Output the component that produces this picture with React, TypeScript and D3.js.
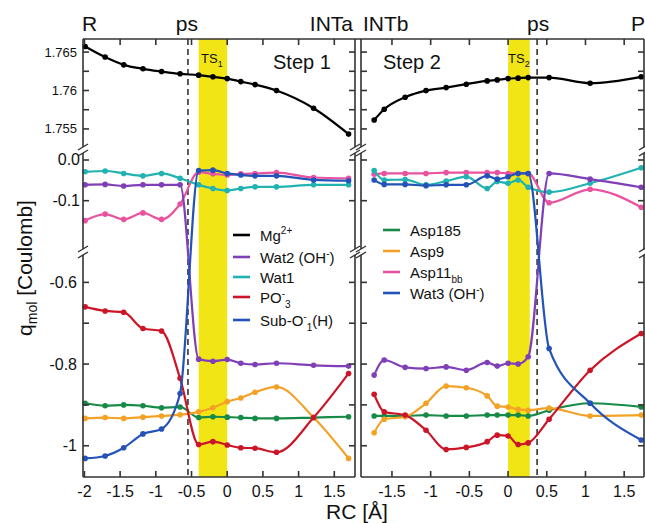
import * as d3 from 'd3';

// reaction coordinate (Å) of the frames in each step
const rcStep1 = [-1.99, -1.71, -1.45, -1.18, -0.92, -0.66, -0.4, -0.2, 0.0, 0.19, 0.39, 0.69, 1.21, 1.7];
const rcStep2 = [-1.73, -1.6, -1.33, -1.06, -0.8, -0.54, -0.27, -0.14, 0.0, 0.13, 0.26, 0.53, 1.06, 1.72];

// step 1 charges
const mg1 = [1.76573, 1.76435, 1.76334, 1.76282, 1.76247, 1.76217, 1.762, 1.76178, 1.76155, 1.76116, 1.76077, 1.75999, 1.75769, 1.75433];
const wat2s1 = [-0.061, -0.06, -0.064, -0.061, -0.061, -0.061, -0.788, -0.793, -0.789, -0.798, -0.801, -0.798, -0.803, -0.805];
const wat1s1 = [-0.029, -0.027, -0.033, -0.039, -0.033, -0.045, -0.061, -0.07, -0.075, -0.07, -0.066, -0.066, -0.061, -0.061];
const po3s1 = [-0.66, -0.67, -0.673, -0.713, -0.719, -0.835, -0.997, -0.99, -0.998, -1.005, -1.006, -1.016, -0.931, -0.823];
const subOs1 = [-1.031, -1.025, -1.005, -0.971, -0.959, -0.872, -0.026, -0.025, -0.033, -0.037, -0.039, -0.039, -0.049, -0.051];
const asp185s1 = [-0.896, -0.902, -0.9, -0.902, -0.907, -0.905, -0.931, -0.929, -0.93, -0.931, -0.933, -0.933, -0.931, -0.929];
const asp9s1 = [-0.933, -0.931, -0.933, -0.93, -0.927, -0.924, -0.917, -0.907, -0.892, -0.883, -0.869, -0.856, -0.931, -1.031];
const asp11s1 = [-0.149, -0.133, -0.146, -0.13, -0.146, -0.108, -0.03, -0.034, -0.037, -0.034, -0.033, -0.031, -0.043, -0.045];

// step 2 charges
const mg2 = [1.75616, 1.75756, 1.75913, 1.75999, 1.76038, 1.76082, 1.76125, 1.76138, 1.76155, 1.76161, 1.76168, 1.76168, 1.76095, 1.76178];
const asp11s2 = [-0.035, -0.033, -0.033, -0.033, -0.031, -0.031, -0.031, -0.031, -0.033, -0.033, -0.033, -0.105, -0.072, -0.116];
const wat1s2 = [-0.026, -0.049, -0.048, -0.061, -0.052, -0.041, -0.07, -0.053, -0.057, -0.049, -0.067, -0.079, -0.057, -0.019];
const wat3s2 = [-0.049, -0.06, -0.06, -0.063, -0.061, -0.061, -0.039, -0.047, -0.041, -0.033, -0.033, -0.762, -0.896, -0.986];
const wat2s2 = [-0.827, -0.79, -0.808, -0.811, -0.807, -0.815, -0.796, -0.805, -0.798, -0.8, -0.782, -0.033, -0.047, -0.067];
const po3s2 = [-0.874, -0.917, -0.925, -0.962, -1.009, -1.004, -0.99, -0.974, -0.976, -0.997, -0.993, -0.935, -0.815, -0.725];
const asp185s2 = [-0.927, -0.927, -0.927, -0.925, -0.927, -0.927, -0.925, -0.925, -0.925, -0.925, -0.927, -0.913, -0.896, -0.905];
const asp9s2 = [-0.968, -0.935, -0.929, -0.896, -0.854, -0.858, -0.878, -0.903, -0.905, -0.911, -0.913, -0.908, -0.927, -0.925];

// transition state windows and ps markers
const tsBand1 = [-0.4, 0.0];
const tsBand2 = [0.0, 0.28];
const psLine1 = -0.55;
const psLine2 = 0.375;

const xTicks1 = [-2, -1.5, -1, -0.5, 0, 0.5, 1, 1.5];
const xTicks2 = [-1.5, -1, -0.5, 0, 0.5, 1, 1.5];
const topTicks = [1.765, 1.7625, 1.76, 1.7575, 1.755];
const topLabels = [1.765, 1.76, 1.755];
const midTicks = [0, -0.1];
const midLabels = [0, -0.1];
const botTicks = [-0.6, -0.7, -0.8, -0.9, -1.0];
const botLabels = [-0.6, -0.8, -1.0];

const C = {
  mg: '#000000',
  wat2: '#7f3fb6',
  wat1: '#22b3b1',
  po3: '#cc1628',
  blue: '#2352b8',
  asp185: '#178a47',
  asp9: '#f4a226',
  asp11: '#e9529e',
  yellow: '#f2e516',
  axis: '#333333',
};

const FONT = "'Liberation Sans', Arial, Helvetica, sans-serif";

// plain hyphen for negatives, like the original figure
const fmt = (f: string) => (v: number) => d3.format(f)(v).replace('\u2212', '-');

const xL = d3.scaleLinear().domain([-2.02, 1.79]).range([83, 355]);
const xR = d3.scaleLinear().domain([-1.9, 1.756]).range([361, 644]);
const yTop = d3.scaleLinear().domain([1.7667, 1.75265]).range([39, 147]);
const yMid = d3.scaleLinear().domain([0.0172, -0.2187]).range([153, 249]);
const yBot = d3.scaleLinear().domain([-0.533, -1.0765]).range([255, 477]);
const yOf = (v: number) => (v > 1 ? yTop(v) : v > -0.35 ? yMid(v) : yBot(v));

const sections = [yTop, yMid, yBot];
const Y0 = 39;
const Y1 = 477;

const series1 = [
  { c: C.asp11, v: asp11s1 },
  { c: C.wat1, v: wat1s1 },
  { c: C.asp185, v: asp185s1 },
  { c: C.asp9, v: asp9s1 },
  { c: C.po3, v: po3s1 },
  { c: C.wat2, v: wat2s1 },
  { c: C.blue, v: subOs1 },
  { c: C.mg, v: mg1 },
];
const series2 = [
  { c: C.asp11, v: asp11s2 },
  { c: C.wat1, v: wat1s2 },
  { c: C.asp185, v: asp185s2 },
  { c: C.asp9, v: asp9s2 },
  { c: C.po3, v: po3s2 },
  { c: C.wat2, v: wat2s2 },
  { c: C.blue, v: wat3s2 },
  { c: C.mg, v: mg2 },
];

function Lines({ xs, rc, series }: any) {
  const line = d3
    .line<[number, number]>()
    .x((d) => d[0])
    .y((d) => d[1])
    .curve(d3.curveMonotoneX);
  return (
    <g>
      {series.map((s: any, i: number) => {
        const pts: [number, number][] = s.v.map((v: number, j: number) => [xs(rc[j]), yOf(v)]);
        return (
          <g key={i}>
            <path d={line(pts) || ''} fill="none" stroke={s.c} strokeWidth={2.2} />
            {pts.map((p, j) => (
              <circle key={j} cx={p[0]} cy={p[1]} r={2.8} fill={s.c} />
            ))}
          </g>
        );
      })}
    </g>
  );
}

// vertical axis at x with inward ticks (dir = +1 right, -1 left)
function VAxis({ x, dir, labels }: any) {
  const tick = 6;
  const segs = sections.map((s) => s.range());
  const allTicks = [
    ...topTicks.map((t) => yTop(t)),
    ...midTicks.map((t) => yMid(t)),
    ...botTicks.map((t) => yBot(t)),
  ];
  return (
    <g stroke={C.axis} strokeWidth={1.6}>
      {segs.map((r, i) => (
        <line key={i} x1={x} x2={x} y1={r[0]} y2={r[1]} />
      ))}
      {allTicks.map((y, i) => (
        <line key={'t' + i} x1={x} x2={x + dir * tick} y1={y} y2={y} />
      ))}
      {[147, 153, 249, 255].map((y, i) => (
        <line key={'b' + i} x1={x - 5} x2={x + 5} y1={y + 3} y2={y - 3} strokeWidth={1.4} />
      ))}
      {labels && (
        <g stroke="none" fill="#111" fontFamily={FONT} textAnchor="end" dominantBaseline="central">
          {topLabels.map((t, i) => (
            <text key={'lt' + i} x={x - 6} y={yTop(t)} fontSize={13}>
              {fmt('')(t)}
            </text>
          ))}
          {midLabels.map((t, i) => (
            <text key={'lm' + i} x={x - 3} y={yMid(t)} fontSize={16}>
              {fmt('.1f')(t)}
            </text>
          ))}
          {botLabels.map((t, i) => (
            <text key={'lb' + i} x={x - 6} y={yBot(t)} fontSize={16}>
              {fmt('')(t)}
            </text>
          ))}
        </g>
      )}
    </g>
  );
}

function XAxis({ xs, ticks }: any) {
  const [a, b] = xs.range();
  return (
    <g>
      <line x1={a} x2={b} y1={Y1} y2={Y1} stroke={C.axis} strokeWidth={1.6} />
      {ticks.map((t: number, i: number) => (
        <g key={i}>
          <line x1={xs(t)} x2={xs(t)} y1={Y1} y2={Y1 - 6} stroke={C.axis} strokeWidth={1.6} />
          <line x1={xs(t)} x2={xs(t)} y1={Y0} y2={Y0 + 6} stroke={C.axis} strokeWidth={1.6} />
          <text x={xs(t)} y={497} textAnchor="middle" fontSize={16} fontFamily={FONT} fill="#111">
            {fmt('')(t)}
          </text>
        </g>
      ))}
    </g>
  );
}

function LegendItem({ x, y, color, children }: any) {
  return (
    <g>
      <line x1={x} x2={x + 17} y1={y} y2={y} stroke={color} strokeWidth={2.6} />
      <text x={x + 27} y={y + 5.5} fontSize={15} fontFamily={FONT} fill="#111">
        {children}
      </text>
    </g>
  );
}

export default function App() {
  return (
    <svg
      width={645}
      height={523}
      style={{ position: 'absolute', left: 0, top: 0, background: '#fff' }}
    >
      {/* TS windows */}
      <rect x={xL(tsBand1[0])} y={Y0} width={xL(tsBand1[1]) - xL(tsBand1[0])} height={Y1 - Y0} fill={C.yellow} />
      <rect x={xR(tsBand2[0])} y={Y0} width={xR(tsBand2[1]) - xR(tsBand2[0])} height={Y1 - Y0} fill={C.yellow} />
      {/* ps markers */}
      <line x1={xL(psLine1)} x2={xL(psLine1)} y1={Y0} y2={Y1} stroke="#333" strokeWidth={1.6} strokeDasharray="6,4" />
      <line x1={xR(psLine2)} x2={xR(psLine2)} y1={Y0} y2={Y1} stroke="#333" strokeWidth={1.6} strokeDasharray="6,4" />

      <Lines xs={xL} rc={rcStep1} series={series1} />
      <Lines xs={xR} rc={rcStep2} series={series2} />

      {/* frame */}
      <line x1={83} x2={644} y1={Y0} y2={Y0} stroke={C.axis} strokeWidth={1.6} />
      <XAxis xs={xL} ticks={xTicks1} />
      <XAxis xs={xR} ticks={xTicks2} />
      <VAxis x={83} dir={1} labels />
      <VAxis x={355} dir={-1} />
      <VAxis x={361} dir={1} />
      <VAxis x={644} dir={-1} />

      {/* state labels */}
      <g fontFamily={FONT} fontSize={21} fill="#111">
        <text x={82} y={31}>R</text>
        <text x={xL(psLine1) - 1} y={31} textAnchor="middle">ps</text>
        <text x={353} y={31} textAnchor="end">INTa</text>
        <text x={363} y={31}>INTb</text>
        <text x={xR(psLine2) + 1} y={31} textAnchor="middle">ps</text>
        <text x={631} y={31}>P</text>
      </g>
      <g fontFamily={FONT} fontSize={20} fill="#111">
        <text x={273} y={69}>Step 1</text>
        <text x={383} y={69}>Step 2</text>
      </g>
      <g fontFamily={FONT} fontSize={13} fill="#111">
        <text x={201} y={63}>
          TS<tspan fontSize={9} dy={4}>1</tspan>
        </text>
        <text x={508} y={63}>
          TS<tspan fontSize={9} dy={4}>2</tspan>
        </text>
      </g>

      {/* legends */}
      <LegendItem x={233} y={235} color={C.mg}>
        Mg<tspan fontSize={10} dy={-7}>2+</tspan>
      </LegendItem>
      <LegendItem x={233} y={257} color={C.wat2}>
        Wat2 (OH<tspan fontSize={10} dy={-6}>-</tspan>
        <tspan dy={6}>)</tspan>
      </LegendItem>
      <LegendItem x={233} y={277} color={C.wat1}>
        Wat1
      </LegendItem>
      <LegendItem x={233} y={297} color={C.po3}>
        PO<tspan fontSize={10} dy={-6}>-</tspan>
        <tspan fontSize={10} dy={11}>3</tspan>
      </LegendItem>
      <LegendItem x={233} y={320} color={C.blue}>
        Sub-O<tspan fontSize={10} dy={-6}>-</tspan>
        <tspan fontSize={10} dy={11}>1</tspan>
        <tspan dy={-5}>(H)</tspan>
      </LegendItem>

      <LegendItem x={383} y={230} color={C.asp185}>
        Asp185
      </LegendItem>
      <LegendItem x={383} y={251} color={C.asp9}>
        Asp9
      </LegendItem>
      <LegendItem x={383} y={272} color={C.asp11}>
        Asp11<tspan fontSize={10} dy={5}>bb</tspan>
      </LegendItem>
      <LegendItem x={383} y={293} color={C.blue}>
        Wat3 (OH<tspan fontSize={10} dy={-6}>-</tspan>
        <tspan dy={6}>)</tspan>
      </LegendItem>

      {/* axis titles */}
      <text x={357} y={519} textAnchor="middle" fontSize={21} fontFamily={FONT} fill="#111">
        RC [Å]
      </text>
      <text
        transform="translate(32,268) rotate(-90)"
        textAnchor="middle"
        fontSize={21}
        fontFamily={FONT}
        fill="#111"
      >
        q<tspan fontSize={14} dy={5}>mol</tspan>
        <tspan dy={-5}> [Coulomb]</tspan>
      </text>
    </svg>
  );
}
